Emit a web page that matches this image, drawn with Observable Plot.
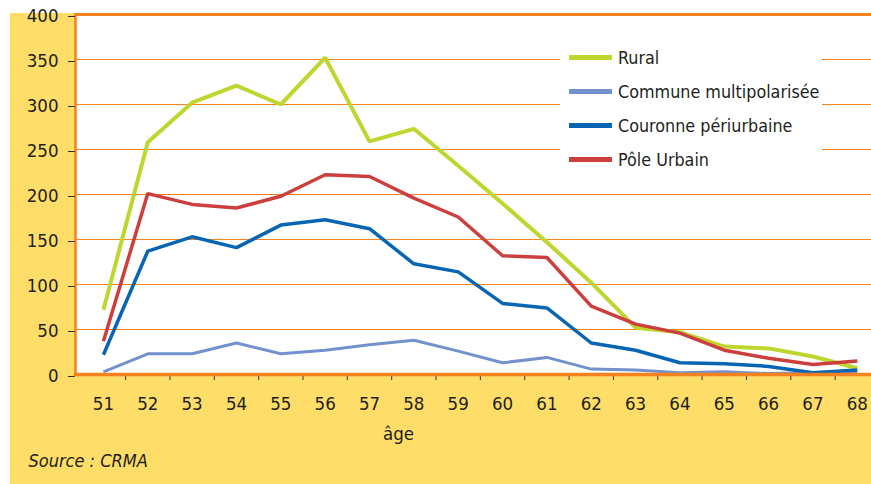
<!DOCTYPE html>
<html><head><meta charset="utf-8">
<script src="https://cdn.jsdelivr.net/npm/d3@7"></script>
<script src="https://cdn.jsdelivr.net/npm/@observablehq/plot@0.6"></script>
<style>
body{margin:0;background:#fff;}
#wrap{position:relative;width:871px;height:484px;overflow:hidden;}
#bg{position:absolute;left:10px;top:13px;right:0;bottom:0;background:#fedd68;}
#chart{position:absolute;left:0;top:0;}
#legend{position:absolute;left:560px;top:40px;width:262px;height:138px;background:#fff;font-family:'Liberation Sans Narrow','DejaVu Sans Condensed','Roboto Condensed',Roboto,sans-serif;font-size:17.8px;color:#231f20;}
.row{position:absolute;left:0;height:20px;display:flex;align-items:center;}
.sw{display:inline-block;width:43px;height:5px;margin-left:9px;margin-right:6px;}
</style></head>
<body>
<div id="wrap"><div id="bg"></div><div id="chart"></div><div id="legend"></div></div>
<script>
const ages = [51,52,53,54,55,56,57,58,59,60,61,62,63,64,65,66,67,68];
const rural    = [72,258,302,321,300,352,259,273,232,190,147,102,52,47,31,29,20,7];
const commune  = [3,23,23,35,23,27,33,38,26,13,19,6,5,2,3,1,2,2];
const couronne = [22,137,153,141,166,172,162,123,114,79,74,35,27,13,12,9,2,5];
const pole     = [37,201,189,185,198,222,220,196,175,132,130,76,56,46,27,18,11,15];
const seriesNames  = ["Rural","Commune multipolarisée","Couronne périurbaine","Pôle Urbain"];
const seriesValues = [rural, commune, couronne, pole];
const seriesColors = ["#bfd62f","#7391cc","#0865b3","#cd3f3f"];
const seriesWidths = [4,3,3.5,3.5];
const yTicks = [0,50,100,150,200,250,300,350,400];
const xLabel = "âge";
const sourceText = "Source : CRMA";

const F = "'Liberation Sans Narrow','DejaVu Sans Condensed','Roboto Condensed',Roboto,sans-serif";
const ORANGE = "#f5821f";

const mids = ages.slice(0,-1).map(a => a + 0.5);

const lineMarks = seriesValues.map((vals,i) =>
  Plot.line(ages.map((a,j)=>({age:a, v:vals[j]})), {
    x:"age", y:"v", stroke: seriesColors[i], strokeWidth: seriesWidths[i],
    strokeLinejoin:"miter", strokeLinecap:"butt"
  })
);

const chart = Plot.plot({
  width: 871, height: 484,
  marginLeft: 75, marginRight: 0, marginTop: 14, marginBottom: 110,
  style: {background:"transparent", fontFamily:F, fontSize:"18.5px", color:"#231f20", overflow:"visible"},
  x: {type:"linear", domain:[50.37, 68.32]},
  y: {domain:[0,400]},
  marks: [
    Plot.frame({fill:"white", stroke:null}),
    Plot.ruleY(yTicks.filter(v => v>0 && v<400), {stroke:ORANGE, strokeWidth:1.2}),
    ...lineMarks,
    Plot.frame({anchor:"top", stroke:ORANGE, strokeWidth:3}),
    Plot.frame({anchor:"left", stroke:ORANGE, strokeWidth:2.5}),
    Plot.axisY({ticks:yTicks, tickSize:7, tickPadding:10, label:null, stroke:"#333", fill:"#231f20", dy:2}),
    Plot.axisX({ticks:mids, tickSize:6, tickFormat:()=>"", label:null, stroke:"#333"}),
    Plot.frame({anchor:"bottom", stroke:ORANGE, strokeWidth:3.5}),
    Plot.axisX({ticks:ages, tickSize:0, tickPadding:22, label:null, fill:"#231f20"}),
    Plot.text([xLabel], {frameAnchor:"bottom-left", dx:323, dy:65, fontSize:18.5, textAnchor:"middle", fill:"#231f20"}),
    Plot.text([sourceText], {frameAnchor:"bottom-left", dx:-47, dy:92, fontSize:18, fontStyle:"italic", textAnchor:"start", fill:"#231f20"})
  ]
});
document.getElementById("chart").appendChild(chart);

const leg = document.getElementById("legend");
seriesNames.forEach((n,i) => {
  const r = document.createElement("div");
  r.className = "row";
  r.style.top = (7 + i*34.3) + "px";
  const s = document.createElement("span");
  s.className = "sw"; s.style.background = seriesColors[i];
  const t = document.createElement("span");
  t.textContent = n;
  r.appendChild(s); r.appendChild(t);
  leg.appendChild(r);
});
</script>
</body></html>
